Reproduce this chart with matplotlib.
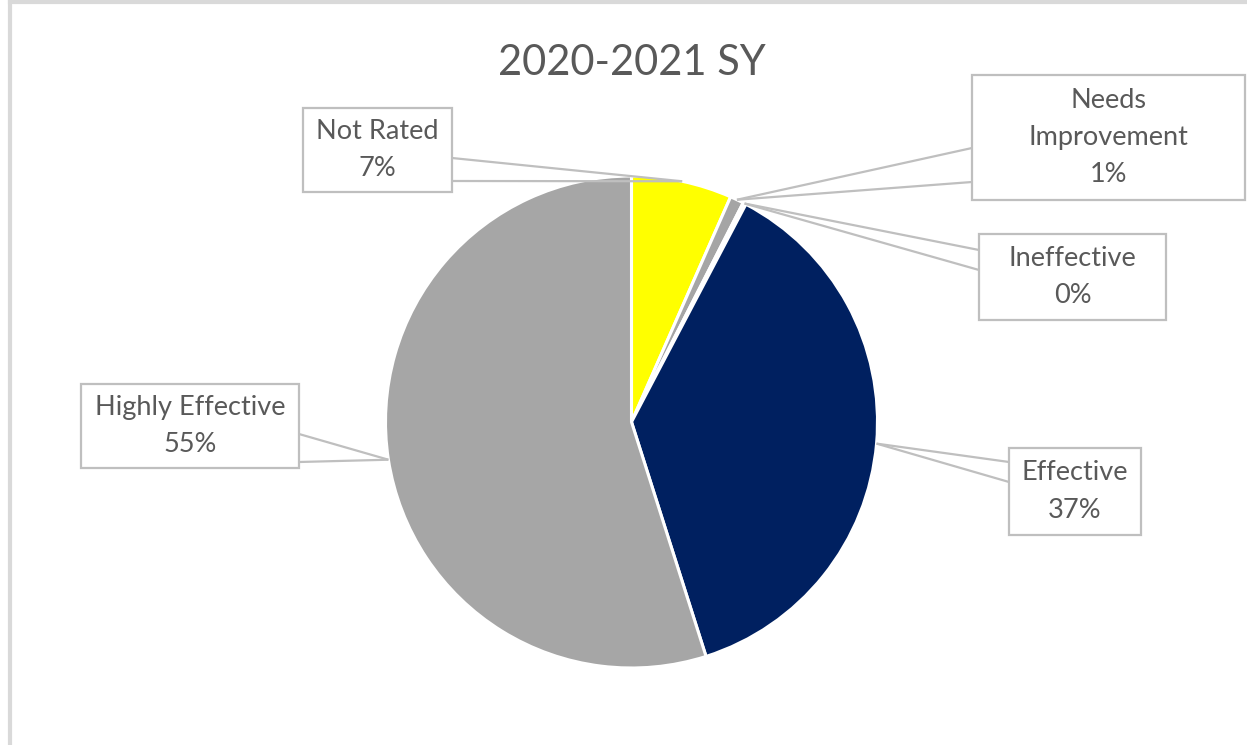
import matplotlib
matplotlib.use("Agg")
import matplotlib.pyplot as plt
from matplotlib.patches import Rectangle
import numpy as np

plt.rcParams["font.family"] = ["Lato", "DejaVu Sans"]

TITLE = "2020-2021 SY"
categories = ["Not Rated", "Needs\nImprovement", "Ineffective", "Effective", "Highly Effective"]
shares = [6.6, 0.9, 0.2, 37.4, 54.9]
colors = ["#ffff00", "#a5a5a5", "#7f7f7f", "#002060", "#a6a6a6"]

W, H = 1247, 745
TEXT = "#595959"
LINE = "#bfbfbf"

# callout boxes in pixel coords: (left, top, right, bottom), side facing the pie, attach y's
boxes = [
    ((303, 108, 452, 192), "right", (158, 181)),
    ((972, 75, 1245, 200), "left", (148, 182)),
    ((979, 234, 1166, 320), "left", (250, 270)),
    ((1009, 448, 1141, 535), "left", (462, 482)),
    ((81, 384, 299, 468), "right", (434, 462)),
]

CX, CY, R = 631.5, 422, 246


def fy(y):
    return H - y


fig = plt.figure(figsize=(W / 100, H / 100), dpi=100)
ax = fig.add_axes([0, 0, 1, 1])

wedges, _ = ax.pie(
    shares,
    colors=colors,
    center=(CX, fy(CY)),
    radius=R,
    startangle=90,
    counterclock=False,
    wedgeprops=dict(edgecolor="white", linewidth=2.2),
    frame=True,
)
ax.set_xlim(0, W)
ax.set_ylim(0, H)
ax.set_aspect("equal")
ax.axis("off")

# chart frame (top and left edges visible in the crop)
ax.plot([10, W], [fy(2), fy(2)], color="#d9d9d9", lw=3, zorder=0)
ax.plot([10, 10], [0, fy(2)], color="#d9d9d9", lw=3, zorder=0)

for w, cat, v, (box, side, ys) in zip(wedges, categories, shares, boxes):
    mid = np.deg2rad((w.theta1 + w.theta2) / 2)
    tx = CX + R * np.cos(mid)
    ty = fy(CY) + R * np.sin(mid)
    l, t, r, b = box
    ex = r if side == "right" else l
    for yy in ys:
        ax.plot([tx, ex], [ty, fy(yy)], color=LINE, lw=1.6, zorder=3, solid_capstyle="butt")
    ax.add_patch(Rectangle((l, fy(b)), r - l, b - t, facecolor="white", edgecolor=LINE, lw=1.6, zorder=4))
    ax.text((l + r) / 2, fy((t + b) / 2), f"{cat}\n{v:.0f}%", ha="center", va="center",
            fontsize=19.5, color=TEXT, linespacing=1.6, zorder=5)

ax.text(CX, fy(63), TITLE, ha="center", va="center", fontsize=30, color=TEXT)

fig.savefig("out.png", dpi=100)
